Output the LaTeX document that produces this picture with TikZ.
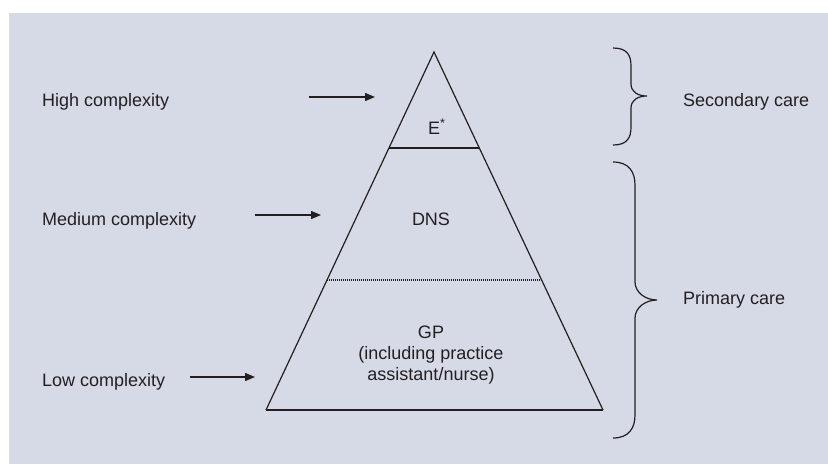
\documentclass[tikz,border=0pt]{standalone}
\usepackage{fontspec}
\setmainfont{Liberation Sans}
\usetikzlibrary{arrows.meta,positioning,calc}
\definecolor{panelblue}{HTML}{D6DAE7}
\definecolor{inkgray}{HTML}{231F20}
\tikzset{
  lbl/.style={anchor=base west, inner sep=0pt, text=inkgray, font=\fontsize{18}{21}\selectfont},
  tierlbl/.style={anchor=base, inner sep=0pt, text=inkgray, align=center, font=\fontsize{18}{21}\selectfont},
  arrow/.style={-{Triangle[length=10pt,width=8pt]}, line width=1.3pt, draw=inkgray},
  side/.style={line width=1.2pt, draw=inkgray},
  bracket/.style={line width=1.2pt, draw=inkgray}
}
\begin{document}
\begin{tikzpicture}[x=1pt,y=-1pt]
  \useasboundingbox (0,0) rectangle (828,464);
  \fill[panelblue] (9,13) rectangle (828,464);
  % pyramid
  \coordinate (apex) at (434,52);
  \coordinate (bl) at (266,410);
  \coordinate (br) at (603,410);
  \coordinate (el) at ($(apex)!0.268!(bl)$);
  \coordinate (er) at ($(apex)!0.268!(br)$);
  \coordinate (dl) at ($(apex)!0.637!(bl)$);
  \coordinate (dr) at ($(apex)!0.637!(br)$);
  \draw[side] (bl) -- (apex) -- (br);
  \draw[side, line width=2pt] (bl) -- (br);
  \draw[side, line width=1.5pt] (el) -- (er);
  \draw[side, dash pattern=on 1pt off 1pt] (dl) -- (dr);
  \node[lbl] (e) at (428,134) {E\textsuperscript{*}};
  \node[tierlbl] (dns) at (431,225) {DNS};
  \node[tierlbl] (gp) at (431,380) {GP\\(including practice\\assistant/nurse)};
  % complexity
  \node[lbl] (high) at (42,106) {High complexity};
  \node[lbl] (med) at (42,225) {Medium complexity};
  \node[lbl] (low) at (42,386) {Low complexity};
  \coordinate (hs) at (309,97);  \coordinate (he) at (375,97);
  \coordinate (ms) at (255,215); \coordinate (me) at (321,215);
  \coordinate (ls) at (190,377); \coordinate (le) at (255,377);
  \draw[arrow] (hs) -- (he); \draw[arrow] (ms) -- (me); \draw[arrow] (ls) -- (le);
  % care levels
  \draw[bracket] (613,48) .. controls (627,48) and (631,55) .. (631,66) -- (631,84)
    .. controls (631,92) and (638,96) .. (647,96) .. controls (638,96) and (631,100) .. (631,108)
    -- (631,127) .. controls (631,138) and (627,145) .. (613,145);
  \draw[bracket] (613,162) .. controls (629,162) and (635,172) .. (635,185) -- (635,282)
    .. controls (635,292) and (645,300) .. (657,300) .. controls (645,300) and (635,308) .. (635,318)
    -- (635,415) .. controls (635,428) and (629,438) .. (613,438);
  \node[lbl] (sec) at (683,106) {Secondary care};
  \node[lbl] (prim) at (683,304) {Primary care};
\end{tikzpicture}
\end{document}
